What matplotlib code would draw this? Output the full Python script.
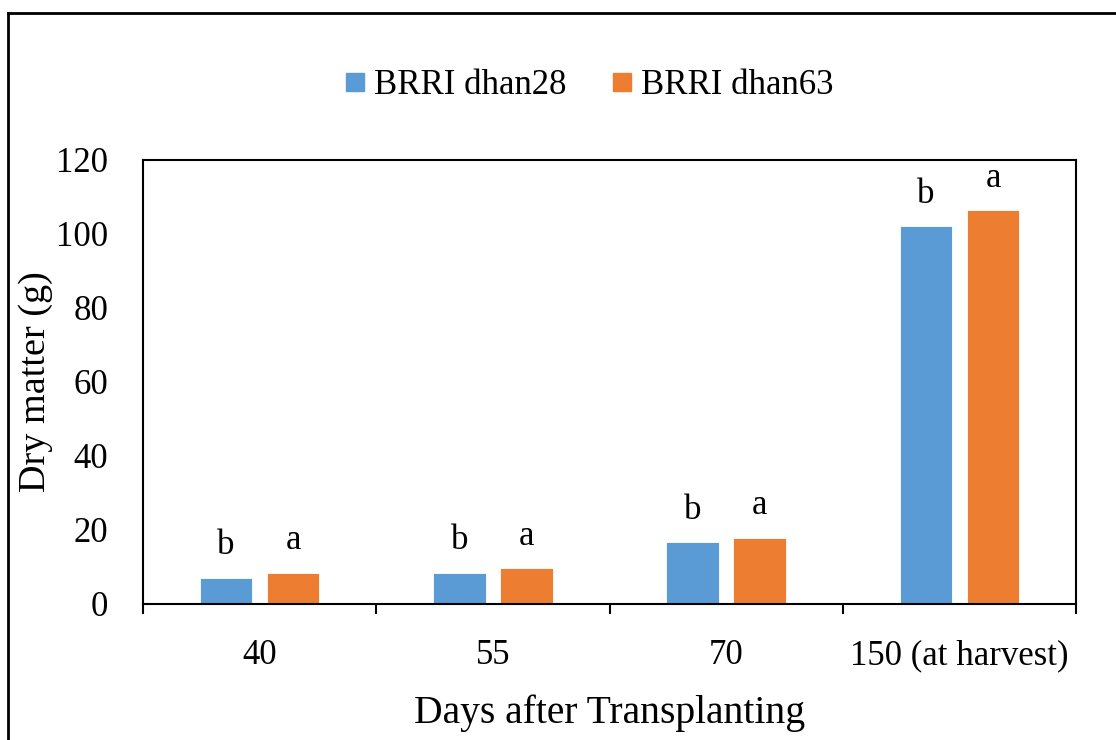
import numpy as np
import matplotlib
matplotlib.use("Agg")
import matplotlib.pyplot as plt
from matplotlib.lines import Line2D

plt.rcParams['font.family'] = ['Liberation Serif', 'DejaVu Serif']

# data
days = ["40", "55", "70", "150 (at harvest)"]
dhan28 = [7.1, 8.4, 16.7, 102.1]
dhan63 = [8.4, 9.6, 17.9, 106.4]
letters28 = ["b", "b", "b", "b"]
letters63 = ["a", "a", "a", "a"]

blue = "#5B9BD5"
orange = "#ED7D31"

fig = plt.figure(figsize=(11.16, 7.4), dpi=100)
ax = fig.add_axes([0.1281, 0.1838, 0.9642 - 0.1281, 0.7838 - 0.1838])

x = np.arange(len(days))
w = 0.225
off = 0.144
ax.bar(x - off, dhan28, w, color=blue, edgecolor="white", linewidth=0.6, label="BRRI dhan28")
ax.bar(x + off, dhan63, w, color=orange, edgecolor="white", linewidth=0.6, label="BRRI dhan63")

# significance letters
for xi, v, t in zip(x - off, dhan28, letters28):
    ax.annotate(t, (xi, v), xytext=(0, 17), textcoords="offset points",
                ha="center", va="baseline", fontsize=25)
for xi, v, t in zip(x + off, dhan63, letters63):
    ax.annotate(t, (xi, v), xytext=(0, 17), textcoords="offset points",
                ha="center", va="baseline", fontsize=25)

ax.set_xlim(-0.5, len(days) - 0.5)
ax.set_ylim(0, 120)
ax.set_yticks(np.arange(0, 121, 20))
ax.tick_params(axis="y", length=0, pad=25, labelsize=25)

# ticks at category boundaries, labels at centres
ax.set_xticks(np.arange(-0.5, len(days), 1.0))
ax.set_xticklabels([])
ax.tick_params(axis="x", which="major", length=7.5, width=1.5, direction="out")
ax.set_xticks(x, minor=True)
ax.set_xticklabels(days, minor=True)
ax.tick_params(axis="x", which="minor", length=0, pad=25.5, labelsize=25)

for s in ax.spines.values():
    s.set_linewidth(1.5)

ax.set_xlabel("Days after Transplanting", fontsize=28.5, labelpad=16)
ax.set_ylabel("Dry matter (g)", fontsize=27.5, labelpad=2)

# legend
handles = [Line2D([], [], marker="s", linestyle="none", markersize=13, color=blue),
           Line2D([], [], marker="s", linestyle="none", markersize=13, color=orange)]
fig.legend(handles, ["BRRI dhan28", "BRRI dhan63"], loc="center",
           bbox_to_anchor=(0.528, 0.884), ncol=2, frameon=False, fontsize=25,
           handlelength=0.6, handletextpad=0.25, columnspacing=1.3)

# outer chart border (top and left visible in reference)
fig.add_artist(Line2D([8 / 1116, 1.0], [1 - 13 / 740, 1 - 13 / 740],
                      transform=fig.transFigure, color="black", linewidth=2))
fig.add_artist(Line2D([8 / 1116, 8 / 1116], [0, 1 - 13 / 740],
                      transform=fig.transFigure, color="black", linewidth=2))

fig.savefig("out.png", dpi=100)
